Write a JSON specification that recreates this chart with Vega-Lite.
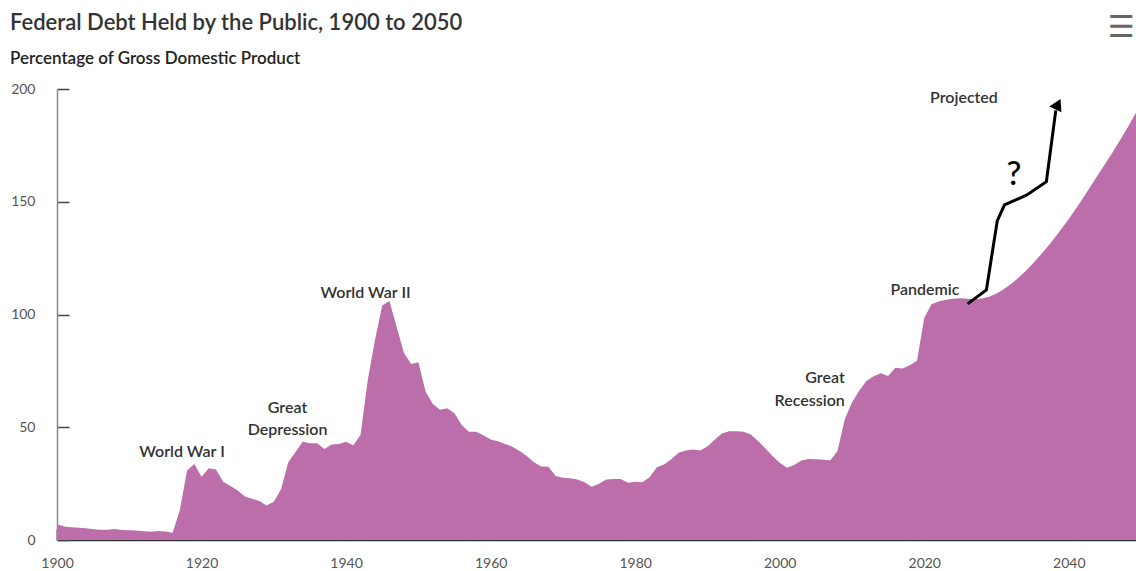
{
  "$schema": "https://vega.github.io/schema/vega-lite/v6.json",
  "width": 1079,
  "height": 451,
  "autosize": {"type": "none"},
  "padding": {"left": 57, "top": 89, "right": 0, "bottom": 31},
  "background": "white",
  "title": {
    "text": "Federal Debt Held by the Public, 1900 to 2050",
    "subtitle": "Percentage of Gross Domestic Product",
    "anchor": "start",
    "frame": "group",
    "dx": -47,
    "offset": -55,
    "font": "Lato",
    "fontSize": 22,
    "fontWeight": 600,
    "color": "#333333",
    "subtitleFont": "Lato",
    "subtitleFontSize": 17,
    "subtitleFontWeight": 600,
    "subtitleColor": "#222222",
    "subtitlePadding": 16
  },
  "datasets": {
    "debt": [
      {"year": 1900, "value": 7.0}, {"year": 1901, "value": 6.0}, {"year": 1902, "value": 5.7}, {"year": 1903, "value": 5.4},
      {"year": 1904, "value": 5.2}, {"year": 1905, "value": 4.8}, {"year": 1906, "value": 4.5}, {"year": 1907, "value": 4.5},
      {"year": 1908, "value": 4.9}, {"year": 1909, "value": 4.4}, {"year": 1910, "value": 4.3}, {"year": 1911, "value": 4.2},
      {"year": 1912, "value": 3.9}, {"year": 1913, "value": 3.7}, {"year": 1914, "value": 4.0}, {"year": 1915, "value": 3.8},
      {"year": 1916, "value": 3.2}, {"year": 1917, "value": 13.3}, {"year": 1918, "value": 30.8}, {"year": 1919, "value": 33.7},
      {"year": 1920, "value": 28.0}, {"year": 1921, "value": 31.8}, {"year": 1922, "value": 31.3}, {"year": 1923, "value": 25.8},
      {"year": 1924, "value": 24.0}, {"year": 1925, "value": 22.0}, {"year": 1926, "value": 19.3}, {"year": 1927, "value": 18.3},
      {"year": 1928, "value": 17.3}, {"year": 1929, "value": 15.3}, {"year": 1930, "value": 17.0}, {"year": 1931, "value": 22.5},
      {"year": 1932, "value": 34.5}, {"year": 1933, "value": 39.0}, {"year": 1934, "value": 43.6}, {"year": 1935, "value": 42.9},
      {"year": 1936, "value": 42.9}, {"year": 1937, "value": 40.3}, {"year": 1938, "value": 42.4}, {"year": 1939, "value": 42.6},
      {"year": 1940, "value": 43.6}, {"year": 1941, "value": 42.0}, {"year": 1942, "value": 46.6}, {"year": 1943, "value": 71.0},
      {"year": 1944, "value": 88.7}, {"year": 1945, "value": 104.0}, {"year": 1946, "value": 106.0}, {"year": 1947, "value": 94.5},
      {"year": 1948, "value": 83.0}, {"year": 1949, "value": 78.0}, {"year": 1950, "value": 78.8}, {"year": 1951, "value": 65.8},
      {"year": 1952, "value": 60.3}, {"year": 1953, "value": 57.8}, {"year": 1954, "value": 58.4}, {"year": 1955, "value": 56.2},
      {"year": 1956, "value": 51.0}, {"year": 1957, "value": 48.0}, {"year": 1958, "value": 48.0}, {"year": 1959, "value": 46.5},
      {"year": 1960, "value": 44.6}, {"year": 1961, "value": 43.8}, {"year": 1962, "value": 42.6}, {"year": 1963, "value": 41.4},
      {"year": 1964, "value": 39.5}, {"year": 1965, "value": 37.3}, {"year": 1966, "value": 34.5}, {"year": 1967, "value": 32.6},
      {"year": 1968, "value": 32.5}, {"year": 1969, "value": 28.4}, {"year": 1970, "value": 27.6}, {"year": 1971, "value": 27.4},
      {"year": 1972, "value": 26.8}, {"year": 1973, "value": 25.6}, {"year": 1974, "value": 23.6}, {"year": 1975, "value": 25.0},
      {"year": 1976, "value": 26.8}, {"year": 1977, "value": 27.1}, {"year": 1978, "value": 27.1}, {"year": 1979, "value": 25.4},
      {"year": 1980, "value": 25.8}, {"year": 1981, "value": 25.6}, {"year": 1982, "value": 27.8}, {"year": 1983, "value": 32.3},
      {"year": 1984, "value": 33.5}, {"year": 1985, "value": 35.8}, {"year": 1986, "value": 38.7}, {"year": 1987, "value": 39.7},
      {"year": 1988, "value": 40.1}, {"year": 1989, "value": 39.7}, {"year": 1990, "value": 41.5}, {"year": 1991, "value": 44.5},
      {"year": 1992, "value": 47.2}, {"year": 1993, "value": 48.2}, {"year": 1994, "value": 48.2}, {"year": 1995, "value": 48.0},
      {"year": 1996, "value": 46.8}, {"year": 1997, "value": 43.9}, {"year": 1998, "value": 40.7}, {"year": 1999, "value": 37.3},
      {"year": 2000, "value": 34.3}, {"year": 2001, "value": 32.0}, {"year": 2002, "value": 33.3}, {"year": 2003, "value": 35.2},
      {"year": 2004, "value": 35.9}, {"year": 2005, "value": 35.8}, {"year": 2006, "value": 35.6}, {"year": 2007, "value": 35.4},
      {"year": 2008, "value": 39.5}, {"year": 2009, "value": 53.5}, {"year": 2010, "value": 61.0}, {"year": 2011, "value": 66.2},
      {"year": 2012, "value": 70.5}, {"year": 2013, "value": 72.6}, {"year": 2014, "value": 74.0}, {"year": 2015, "value": 72.7},
      {"year": 2016, "value": 76.4}, {"year": 2017, "value": 76.1}, {"year": 2018, "value": 77.5}, {"year": 2019, "value": 79.5},
      {"year": 2020, "value": 98.5}, {"year": 2021, "value": 104.5}, {"year": 2022, "value": 105.8}, {"year": 2023, "value": 106.5},
      {"year": 2024, "value": 107.0}, {"year": 2025, "value": 107.2}, {"year": 2026, "value": 107.0}, {"year": 2027, "value": 106.8},
      {"year": 2028, "value": 107.1}, {"year": 2029, "value": 107.9}, {"year": 2030, "value": 109.3}, {"year": 2031, "value": 111.2},
      {"year": 2032, "value": 113.5}, {"year": 2033, "value": 116.2}, {"year": 2034, "value": 119.2}, {"year": 2035, "value": 122.5},
      {"year": 2036, "value": 126.0}, {"year": 2037, "value": 129.8}, {"year": 2038, "value": 133.8}, {"year": 2039, "value": 138.0},
      {"year": 2040, "value": 142.4}, {"year": 2041, "value": 147.0}, {"year": 2042, "value": 151.8}, {"year": 2043, "value": 156.8},
      {"year": 2044, "value": 161.8}, {"year": 2045, "value": 166.6}, {"year": 2046, "value": 171.6}, {"year": 2047, "value": 176.8},
      {"year": 2048, "value": 182.2}, {"year": 2049, "value": 187.8}, {"year": 2050, "value": 193.5}
    ],
    "arrow": [
      {"order": 1, "year": 2026.0, "value": 104.7},
      {"order": 2, "year": 2028.6, "value": 110.9},
      {"order": 3, "year": 2030.1, "value": 141.5},
      {"order": 4, "year": 2031.1, "value": 148.6},
      {"order": 5, "year": 2034.2, "value": 153.0},
      {"order": 6, "year": 2036.9, "value": 158.9},
      {"order": 7, "year": 2038.2, "value": 190.5}
    ],
    "arrowhead": [{"year": 2038.5, "value": 193.3}],
    "labelsCenter": [
      {"label": "World War I", "year": 1917.3, "value": 38.9},
      {"label": "Great", "year": 1931.9, "value": 58.4},
      {"label": "Depression", "year": 1931.9, "value": 48.8},
      {"label": "World War II", "year": 1942.7, "value": 109.4},
      {"label": "Pandemic", "year": 2020.1, "value": 110.9}
    ],
    "labelsRight": [
      {"label": "Great", "year": 2009.0, "value": 71.7},
      {"label": "Recession", "year": 2009.0, "value": 61.8}
    ],
    "labelsLeft": [
      {"label": "Projected", "year": 2020.8, "value": 195.9}
    ],
    "question": [{"label": "?", "year": 2032.4, "value": 162.0}],
    "menu": [{"label": "☰", "year": 2047.3, "value": 227.0}],
    "projection": [{"year": 2020}]
  },
  "encoding": {
    "x": {
      "field": "year",
      "type": "quantitative",
      "scale": {"domain": [1900, 2049.3], "nice": false, "zero": false},
      "axis": {
        "values": [1900, 1920, 1940, 1960, 1980, 2000, 2020, 2040],
        "format": "d",
        "title": null,
        "grid": false,
        "labelFlush": false,
        "tickSize": -11,
        "tickWidth": 2,
        "tickColor": "#8a3d80",
        "domainColor": "#333333",
        "domainWidth": 1.5,
        "labelFont": "Lato",
        "labelFontSize": 14,
        "labelColor": "#555555",
        "labelPadding": 27
      }
    },
    "y": {
      "field": "value",
      "type": "quantitative",
      "scale": {"domain": [0, 200], "nice": false},
      "axis": {
        "values": [0, 50, 100, 150, 200],
        "title": null,
        "grid": false,
        "labelFlush": false,
        "tickSize": -12,
        "tickWidth": 1.5,
        "tickColor": "#444444",
        "domainColor": "#888888",
        "domainWidth": 1.5,
        "labelFont": "Lato",
        "labelFontSize": 14,
        "labelColor": "#555555",
        "labelPadding": 34
      }
    }
  },
  "layer": [
    {
      "data": {"name": "debt"},
      "mark": {"type": "area", "color": "#bc6eab", "interpolate": "linear", "clip": false}
    },
    {
      "data": {"name": "labelsCenter"},
      "mark": {"type": "text", "align": "center", "baseline": "middle", "font": "Lato", "fontSize": 16, "fontWeight": 600, "color": "#333333"},
      "encoding": {"text": {"field": "label"}}
    },
    {
      "data": {"name": "labelsRight"},
      "mark": {"type": "text", "align": "right", "baseline": "middle", "font": "Lato", "fontSize": 16, "fontWeight": 600, "color": "#333333"},
      "encoding": {"text": {"field": "label"}}
    },
    {
      "data": {"name": "labelsLeft"},
      "mark": {"type": "text", "align": "left", "baseline": "middle", "font": "Lato", "fontSize": 16, "fontWeight": 600, "color": "#333333"},
      "encoding": {"text": {"field": "label"}}
    },
    {
      "data": {"name": "projection"},
      "mark": {"type": "rule", "color": "#222222", "strokeWidth": 1.5, "strokeDash": [1.5, 3]},
      "encoding": {"y": {"datum": 0}, "y2": {"datum": 200}}
    },
    {
      "data": {"name": "arrow"},
      "mark": {"type": "line", "color": "#000000", "strokeWidth": 3, "strokeJoin": "miter", "strokeCap": "butt", "clip": false},
      "encoding": {"order": {"field": "order", "type": "quantitative"}}
    },
    {
      "data": {"name": "arrowhead"},
      "mark": {"type": "point", "shape": "triangle-up", "filled": true, "color": "#000000", "opacity": 1, "size": 180, "angle": 26, "clip": false}
    },
    {
      "data": {"name": "question"},
      "mark": {"type": "text", "align": "center", "baseline": "middle", "font": "Lato", "fontSize": 33, "fontWeight": 500, "color": "#000000"},
      "encoding": {"text": {"field": "label"}}
    },
    {
      "data": {"name": "menu"},
      "mark": {"type": "text", "align": "center", "baseline": "middle", "font": "DejaVu Sans", "fontSize": 30, "fontWeight": "bold", "color": "#666666", "clip": false},
      "encoding": {"text": {"field": "label"}}
    }
  ],
  "config": {"view": {"stroke": null}}
}
